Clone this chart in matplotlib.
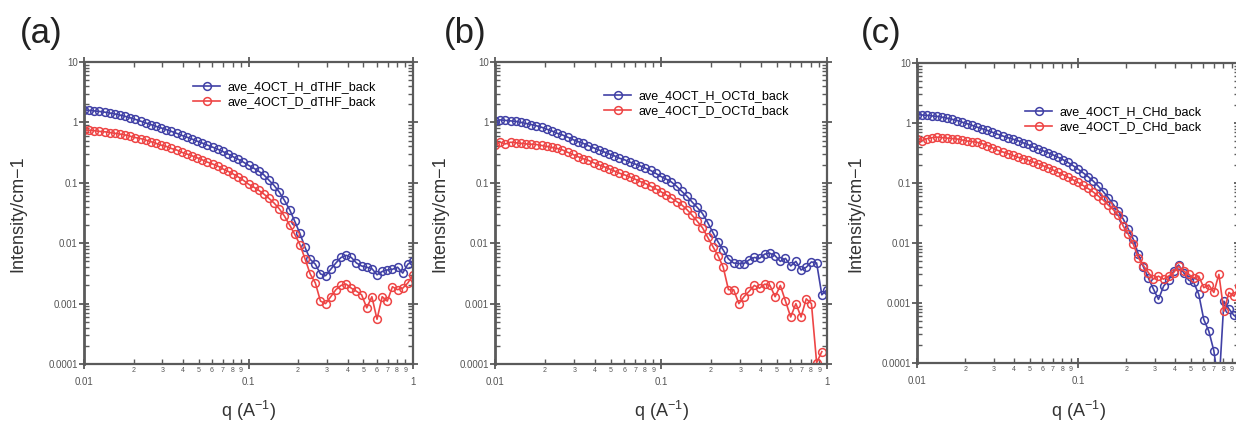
import numpy as np
import matplotlib
matplotlib.use("Agg")
import matplotlib.pyplot as plt
from matplotlib.ticker import LogLocator, FuncFormatter, NullFormatter
import math

plt.rcParams['font.family'] = ['Liberation Sans', 'DejaVu Sans']
plt.rcParams['mathtext.default'] = 'regular'

# ---------------- data ----------------
q = [0.0100, 0.01075, 0.01155, 0.01241, 0.01334, 0.01433, 0.01540, 0.01655,
     0.01778, 0.01911, 0.02054, 0.02207, 0.02371, 0.02548, 0.02738, 0.02943,
     0.03162, 0.03398, 0.03652, 0.03924, 0.04217, 0.04532, 0.04870, 0.05233,
     0.05623, 0.06043, 0.06494, 0.06978, 0.07499, 0.08058, 0.08660, 0.09306,
     0.1000, 0.1075, 0.1155, 0.1241, 0.1334, 0.1433, 0.1540, 0.1655,
     0.1778, 0.1911, 0.2054, 0.2207, 0.2371, 0.2548, 0.2738, 0.2943,
     0.3162, 0.3398, 0.3652, 0.3924, 0.4217, 0.4532, 0.4870, 0.5233,
     0.5623, 0.6043, 0.6494, 0.6978, 0.7499, 0.8058, 0.8660, 0.9306, 1.0000]

a_H = [1.62, 1.58, 1.55, 1.52, 1.48, 1.43, 1.38, 1.32, 1.26, 1.19, 1.12, 1.05,
       0.98, 0.92, 0.86, 0.81, 0.76, 0.71, 0.66, 0.61, 0.57, 0.53, 0.49, 0.455,
       0.42, 0.39, 0.36, 0.33, 0.30, 0.27, 0.245, 0.22, 0.195, 0.175, 0.155,
       0.135, 0.11, 0.09, 0.07, 0.051, 0.036,
       0.023, 0.0145, 0.0085, 0.0054, 0.0045, 0.0031, 0.0029, 0.0037, 0.0047,
       0.0058, 0.0063, 0.0058, 0.0047, 0.0042, 0.0040, 0.0038, 0.0030, 0.0034,
       0.0036, 0.0037, 0.0040, 0.0032, 0.0045, 0.0050]
a_D = [0.75, 0.74, 0.73, 0.71, 0.70, 0.68, 0.66, 0.64, 0.62, 0.59, 0.56, 0.54,
       0.51, 0.48, 0.45, 0.42, 0.40, 0.37, 0.35, 0.32, 0.30, 0.28, 0.26, 0.24,
       0.22, 0.205, 0.19, 0.17, 0.155, 0.14, 0.125, 0.11, 0.095, 0.085, 0.075,
       0.065, 0.055, 0.046, 0.037, 0.028, 0.020,
       0.014, 0.0095, 0.0055, 0.0031, 0.0022, 0.0011, 0.0010, 0.0013, 0.0017,
       0.0020, 0.0021, 0.0018, 0.0016, 0.0014, 0.00085, 0.0013, 0.00055, 0.0013,
       0.0011, 0.0019, 0.0017, 0.0018, 0.0022, 0.0030]

b_H = [1.04, 1.10, 1.08, 1.06, 1.04, 1.00, 0.96, 0.92, 0.88, 0.83, 0.77, 0.72,
       0.66, 0.62, 0.57, 0.52, 0.48, 0.45, 0.41, 0.38, 0.35, 0.325, 0.30, 0.28,
       0.255, 0.24, 0.22, 0.205, 0.19, 0.175, 0.16, 0.143, 0.127, 0.115, 0.103,
       0.088, 0.072, 0.060, 0.048, 0.039, 0.031,
       0.022, 0.015, 0.0105, 0.0077, 0.0055, 0.0047, 0.0046, 0.0046, 0.0053,
       0.0058, 0.0056, 0.0066, 0.0068, 0.0062, 0.0050, 0.0056, 0.0042, 0.0050,
       0.0036, 0.0040, 0.0049, 0.0047, 0.0014, 0.0017]
b_D = [0.43, 0.47, 0.44, 0.47, 0.46, 0.45, 0.44, 0.435, 0.43, 0.415, 0.40, 0.385,
       0.37, 0.35, 0.32, 0.295, 0.27, 0.25, 0.235, 0.215, 0.198, 0.185, 0.17,
       0.157, 0.144, 0.135, 0.125, 0.115, 0.105, 0.097, 0.088, 0.079, 0.071,
       0.063, 0.056, 0.049, 0.043, 0.036, 0.029, 0.023, 0.018,
       0.0125, 0.0088, 0.0062, 0.0040, 0.0017, 0.0017, 0.0010, 0.0013, 0.0016,
       0.0020, 0.0018, 0.0021, 0.0020, 0.0013, 0.0020, 0.0011, 0.0006, 0.0010,
       0.0006, 0.0012, 0.0010, 0.000105, 0.00016]

c_H = [1.38, 1.36, 1.34, 1.31, 1.29, 1.25, 1.20, 1.15, 1.10, 1.03, 0.97, 0.91,
       0.85, 0.80, 0.75, 0.70, 0.65, 0.61, 0.57, 0.54, 0.51, 0.47, 0.44, 0.40,
       0.37, 0.345, 0.32, 0.295, 0.27, 0.245, 0.22, 0.195, 0.17, 0.148, 0.128,
       0.108, 0.089, 0.072, 0.057, 0.044, 0.034,
       0.025, 0.017, 0.0115, 0.0065, 0.0040, 0.0026, 0.0017, 0.00115, 0.0019,
       0.0024, 0.0034, 0.0043, 0.0032, 0.0024, 0.0022, 0.0014, 0.00053, 0.00034,
       0.00016, 0.00004, 0.00107, 0.0008, 0.00062, 0.0006]
c_D = [0.55, 0.51, 0.55, 0.57, 0.58, 0.57, 0.56, 0.55, 0.54, 0.52, 0.50, 0.49,
       0.475, 0.45, 0.42, 0.385, 0.35, 0.33, 0.31, 0.29, 0.27, 0.255, 0.24,
       0.225, 0.21, 0.195, 0.18, 0.165, 0.15, 0.138, 0.125, 0.113, 0.102,
       0.091, 0.081, 0.071, 0.061, 0.052, 0.043, 0.036, 0.029,
       0.019, 0.014, 0.0095, 0.0057, 0.0042, 0.0032, 0.0025, 0.0028, 0.0025,
       0.0028, 0.0032, 0.0041, 0.0034, 0.0030, 0.0026, 0.0028, 0.0018, 0.0020,
       0.0015, 0.0030, 0.00073, 0.0015, 0.0013, 0.0019]

panel_labels = ["(a)", "(b)", "(c)"]
legend_H = ["ave_4OCT_H_dTHF_back", "ave_4OCT_H_OCTd_back", "ave_4OCT_H_CHd_back"]
legend_D = ["ave_4OCT_D_dTHF_back", "ave_4OCT_D_OCTd_back", "ave_4OCT_D_CHd_back"]
series_H = [a_H, b_H, c_H]
series_D = [a_D, b_D, c_D]

# ---------------- layout ----------------
W, H = 1236, 423
fig = plt.figure(figsize=(W / 100, H / 100), dpi=100)

# (left px, right px, top px, bottom px)
boxes = [(84, 413, 62, 364), (495, 827, 62, 364), (917, 1239, 63, 363)]
label_pos = [(41, 34), (465, 34), (881, 34)]
ylabel_x = [18, 440, 856]
leg_anchor = [(0.331, 0.937), (0.328, 0.907), (0.335, 0.857)]
show_right_major = [True, True, False]   # panel (c) is cropped at its right edge

BLUE = "#4141a6"
RED = "#ee4545"
SPINE = "#5a5a5a"


def make_major_fmt(show_one):
    def f(x, pos):
        if x >= 0.999 and not show_one:
            return ""
        return "%g" % x
    return f


def minor_fmt(x, pos):
    e = math.floor(math.log10(x) + 1e-9)
    d = int(round(x / 10 ** e))
    return str(d) if 2 <= d <= 9 else ""


def y_fmt(x, pos):
    return "%g" % x


for i, (l, r, t, b) in enumerate(boxes):
    ax = fig.add_axes([l / W, 1 - b / H, (r - l) / W, (b - t) / H])
    n_h = len(series_H[i])
    n_d = len(series_D[i])
    ax.plot(q[:n_h], series_H[i], '-o', color=BLUE, lw=1.2, ms=5.6,
            mfc='none', mec=BLUE, mew=1.1, label=legend_H[i])
    ax.plot(q[:n_d], series_D[i], '-o', color=RED, lw=1.2, ms=5.6,
            mfc='none', mec=RED, mew=1.1, label=legend_D[i])
    ax.set_xscale('log')
    ax.set_yscale('log')
    ax.set_xlim(0.01, 1)
    ax.set_ylim(1e-4, 10)

    ax.xaxis.set_major_locator(LogLocator(base=10, numticks=10))
    ax.xaxis.set_minor_locator(LogLocator(base=10, subs=np.arange(2, 10), numticks=20))
    ax.xaxis.set_major_formatter(FuncFormatter(make_major_fmt(show_right_major[i])))
    ax.xaxis.set_minor_formatter(FuncFormatter(minor_fmt))
    ax.yaxis.set_major_locator(LogLocator(base=10, numticks=10))
    ax.yaxis.set_minor_locator(LogLocator(base=10, subs=np.arange(2, 10), numticks=20))
    ax.yaxis.set_major_formatter(FuncFormatter(y_fmt))
    ax.yaxis.set_minor_formatter(NullFormatter())

    ax.tick_params(which='major', direction='inout', length=7, width=1.3,
                   color=SPINE, top=True, right=True, labelsize=7,
                   labelcolor="#555555")
    ax.tick_params(which='minor', direction='in', length=3.5, width=1.0,
                   color=SPINE, top=True, right=True, labelsize=5,
                   labelcolor="#555555")
    ax.tick_params(axis='x', which='major', pad=6)
    ax.tick_params(axis='x', which='minor', pad=2.5)
    ax.tick_params(axis='y', which='major', pad=1)

    for s in ax.spines.values():
        s.set_color(SPINE)
        s.set_linewidth(1.6)
    ax.spines['left'].set_linewidth(2.0)

    ax.legend(loc='upper left', bbox_to_anchor=leg_anchor[i], frameon=False,
              fontsize=9, borderpad=0, borderaxespad=0, handlelength=2.2,
              handletextpad=0.6, labelspacing=0.25)

    lx, ly = label_pos[i]
    fig.text(lx / W, 1 - ly / H, panel_labels[i], fontsize=25,
             ha='center', va='center', color="#222222")
    fig.text(ylabel_x[i] / W, 1 - 214 / H, "Intensity/cm\u22121", rotation=90,
             fontsize=13, ha='center', va='center', color="#333333")
    fig.text(((l + min(r, 1239)) / 2) / W, 1 - 411 / H, r"q (A$^{-1}$)",
             fontsize=13, ha='center', va='center', color="#333333")

fig.savefig("out.png", dpi=100)
